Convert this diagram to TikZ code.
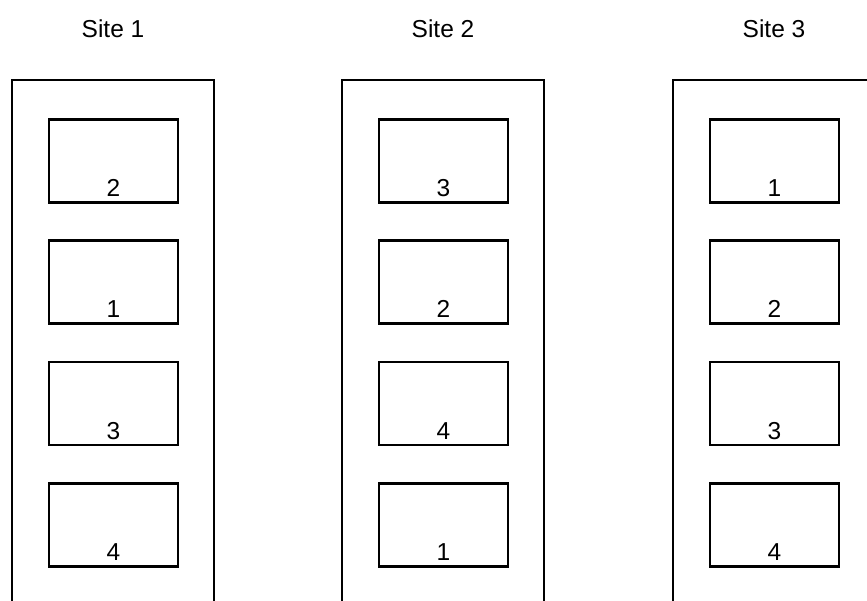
\documentclass[tikz,border=0pt]{standalone}
\usepackage{fontspec}
\setmainfont{Liberation Sans}
\begin{document}
\begin{tikzpicture}[x=1pt,y=-1pt,
  outerbox/.style={draw=black,line width=2.6pt},
  innerbox/.style={draw=black,line width=2.6pt},
  lbl/.style={font=\fontsize{24.5}{28}\selectfont,anchor=base,inner sep=0pt}]
\useasboundingbox (0,0) rectangle (867,600);
\clip (0,0) rectangle (867,600);
\foreach \s/\cx/\a/\b/\c/\d in {1/113/2/1/3/4, 2/443/3/2/4/1, 3/774/1/2/3/4}{
  \node[lbl] (site\s) at (\cx,37.5) {Site \s};
  \draw[outerbox] (\cx-101,620) -- (\cx-101,80) -- (\cx+101,80) -- (\cx+101,620);
  \foreach \i/\n in {0/\a,1/\b,2/\c,3/\d}{
    \pgfmathsetmacro\ty{118+121.3*\i}
    \node[innerbox,minimum width=129pt,minimum height=83pt,inner sep=0pt,anchor=north] (b\s\i) at (\cx+0.5,\ty) {};
    \node[lbl] (n\s\i) at ([yshift=7pt]b\s\i.south) {\n};
  }
}
\end{tikzpicture}
\end{document}
